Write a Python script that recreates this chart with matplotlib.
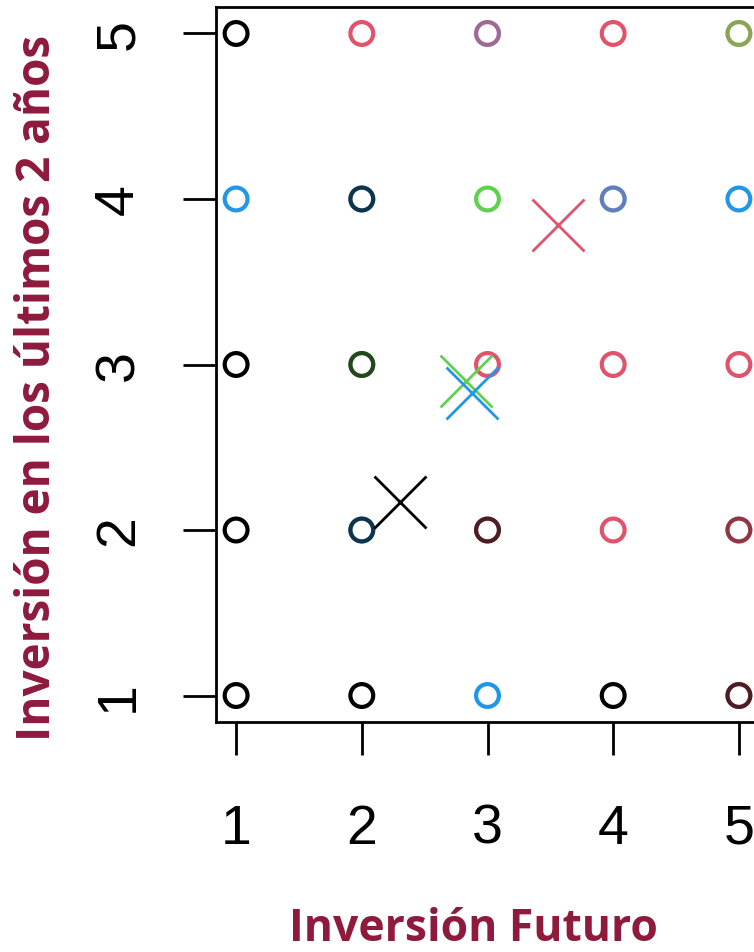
import numpy as np
import matplotlib.pyplot as plt

# cluster palette (R default palette order)
palette = {1: '#000000', 2: '#DF536B', 3: '#61D04F', 4: '#2297E6'}

# observations on the 5x5 grid: main cluster at each point
pt_x = [1, 2, 3, 4, 5,
        1, 2, 3, 4, 5,
        1, 2, 3, 4, 5,
        1, 2, 3, 4, 5,
        1, 2, 3, 4, 5]
pt_y = [5, 5, 5, 5, 5,
        4, 4, 4, 4, 4,
        3, 3, 3, 3, 3,
        2, 2, 2, 2, 2,
        1, 1, 1, 1, 1]
pt_grupo = [1, 2, 2, 2, 3,
            4, 1, 3, 4, 4,
            1, 1, 2, 2, 2,
            1, 1, 1, 2, 2,
            1, 1, 4, 1, 1]

# points shared with a second cluster (overplotted)
dup_x = [3, 5, 2, 4, 2, 2, 3, 5, 5]
dup_y = [5, 5, 4, 4, 3, 2, 2, 2, 1]
dup_grupo = [4, 2, 4, 2, 3, 4, 2, 1, 2]

# cluster centres
cen_x = [2.30, 3.56, 2.83, 2.88]
cen_y = [2.17, 3.84, 2.90, 2.83]
cen_grupo = [1, 2, 3, 4]

W, H = 754, 953
fig = plt.figure(figsize=(W / 100, H / 100), dpi=100)
ax = fig.add_axes([216 / W, (H - 723) / H, (759 - 216) / W, (723 - 8) / H])

ax.scatter(pt_x, pt_y, s=270, facecolors='none',
           edgecolors=[palette[g] for g in pt_grupo], linewidths=3, zorder=2)
ax.scatter(dup_x, dup_y, s=270, facecolors='none',
           edgecolors=[palette[g] for g in dup_grupo], linewidths=3,
           alpha=0.35, zorder=3)
for x, y, g in zip(cen_x, cen_y, cen_grupo):
    ax.plot(x, y, marker='x', ms=38, mew=2, color=palette[g], zorder=4)

ax.set_xlim(0.84, 5.16)
ax.set_ylim(0.84, 5.16)
ax.set_xticks([1, 2, 3, 4, 5])
ax.set_yticks([1, 2, 3, 4, 5])
for s in ax.spines.values():
    s.set_linewidth(2)
ax.tick_params(length=24, width=2, direction='out', labelsize=40)
ax.tick_params(axis='x', pad=34)
ax.tick_params(axis='y', pad=27)
for lab in ax.get_xticklabels() + ax.get_yticklabels():
    lab.set_fontfamily('Liberation Sans')
for lab in ax.get_yticklabels():
    lab.set_rotation(90)
    lab.set_va('center')

title_kw = dict(fontweight='bold', family='Open Sans',
                color='#8E1A3C', ha='center', va='center')
fig.text(473 / W, 1 - 930 / H, 'Inversión Futuro', fontsize=32, **title_kw)
fig.text(38 / W, 1 - 388 / H, 'Inversión en los últimos 2 años',
         fontsize=33, rotation=90, **title_kw)

fig.savefig('out.png', dpi=100)
